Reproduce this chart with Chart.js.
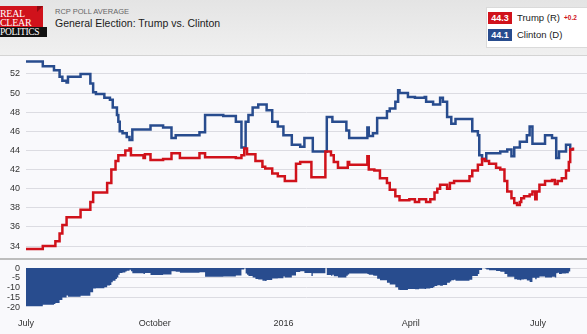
<!DOCTYPE html>
<html>
<head>
<meta charset="utf-8">
<script src="https://cdn.jsdelivr.net/npm/chart.js@4.4.0/dist/chart.umd.min.js"></script>
<style>
body { margin:0; width:587px; height:334px; overflow:hidden; position:relative;
       background:#f9f9fc; font-family:"Liberation Sans", Arial, sans-serif; }
#head { position:absolute; left:0; top:0; width:587px; height:55px;
        background:linear-gradient(#e4e4e4, #f0f0f0); border-bottom:1px solid #d4d4d4; }
#logoRed { position:absolute; left:0; top:6px; width:43px; height:21px; background:#d0121b; }
#logoFold { position:absolute; left:37px; top:6px; width:0; height:0;
            border-left:6px solid #8e0a10; border-bottom:6px solid transparent; }
#logoBlack { position:absolute; left:0; top:27px; width:47px; height:10px; background:#111; }
.logoTxt { position:absolute; left:0; color:#fff; font-family:"Liberation Serif", "DejaVu Serif", serif;
           font-size:10px; line-height:10px; letter-spacing:-0.3px; white-space:nowrap; }
#sub { position:absolute; left:55px; top:7px; font-size:7.5px; color:#666; }
#title { position:absolute; left:55px; top:17px; font-size:10.5px; color:#1b1b1b; }
#legend { position:absolute; left:486px; top:7px; width:110px; height:39px; background:#fff;
          border:1px solid #dadada; }
.badge { position:absolute; left:488px; width:24px; height:12px; color:#fff; font-weight:bold;
         font-size:9px; line-height:12px; text-align:center; }
.lname { position:absolute; left:517px; font-size:9.5px; line-height:12px; color:#1b1b1b; }
#lead { position:absolute; left:564px; top:14px; font-size:6.5px; line-height:8px; font-weight:bold; color:#d0121b; }
#sep { position:absolute; left:0; top:258px; width:587px; height:2px; background:#bdbdbd; }
#mainBox { position:absolute; left:0; top:56px; }
#spreadBox { position:absolute; left:0; top:262px; }
</style>
</head>
<body>
<div id="head">
  <div id="logoRed"></div><div id="logoFold"></div><div id="logoBlack"></div>
  <div class="logoTxt" style="top:9px">REAL</div>
  <div class="logoTxt" style="top:18px">CLEAR</div>
  <div class="logoTxt" style="top:27px;font-size:9.5px">POLITICS</div>
  <div id="sub">RCP POLL AVERAGE</div>
  <div id="title">General Election: Trump vs. Clinton</div>
</div>
<div id="legend"></div>
<div class="badge" id="tBadge" style="top:12px;background:#d0121b"></div>
<div class="lname" style="top:12px">Trump (R)</div>
<div id="lead"></div>
<div class="badge" id="cBadge" style="top:29px;background:#284c8e"></div>
<div class="lname" style="top:29px">Clinton (D)</div>
<div id="mainBox"><canvas id="main" width="587" height="202"></canvas></div>
<div id="sep"></div>
<div id="spreadBox"><canvas id="spread" width="587" height="72"></canvas></div>
<script>
var RED = '#d0121b';
var BLUE = '#284c8e';
var FONT = '"Liberation Sans", Arial, sans-serif';

// days since July 1, 2015 where each average changes, and the new value
var CLINTON_DAY = [0,12,20,24,26,29,30,39,46,48, 50,56,60,62,65,66,67,69,72,74,
    76,89,98,104,107,124,128,141,150,154, 157,159,162,166,172,176,180,184,190,196,
    199,205,215,219,229,231,244,245,248,251, 258,260,264,266,267,273,278,285,286,291,
    296,298,301,304,307,319,323,324,326,329, 339,344,347,349,353,358,360,362,371,376,
    379,381,386,389,391];
var CLINTON = [53.3,52.8,52.4,51.7,51.3,51.1,51.7,52.0,51.0,50.1, 49.9,49.5,49.3,48.5,47.7,47.0,46.0,45.8,45.4,45.1,
    46.2,46.6,46.4,45.3,45.6,45.9,47.7,47.6,47.0,44.3, 47.0,47.7,48.5,48.8,48.2,47.0,46.5,45.6,44.6,44.4,
    45.3,43.9,47.5,47.0,46.1,45.3,46.4,45.5,45.8,47.4, 48.1,48.4,49.1,50.3,50.0,49.6,49.5,49.6,49.1,48.8,
    49.5,49.1,47.5,46.8,47.3,46.0,45.6,43.5,43.1,43.7, 43.9,44.1,43.4,44.3,44.9,45.6,46.5,44.7,45.6,45.3,
    43.2,43.9,44.6,44.1,44.1];

var TRUMP_DAY = [0,12,21,24,26,29,39,46,48,58, 61,64,66,71,74,75,84,85,89,98,
    104,110,124,128,150,154,156,158,164,169, 171,176,180,185,193,196,204,214,218,220,
    223,230,231,244,245,249,253,258,260,264, 267,274,278,281,286,289,292,294,296,301,
    303,306,317,319,323,326,328,331,336,339, 342,344,347,349,351,353,354,356,360,362,
    364,365,367,371,376,378,380,383,386,388, 389,391];
var TRUMP = [33.7,34.0,34.5,35.3,36.2,37.0,37.8,38.6,39.6,40.6, 42.0,42.9,43.5,44.0,44.2,43.5,43.2,43.6,43.0,43.1,
    43.7,43.2,43.7,43.3,43.2,43.5,44.2,43.6,42.9,42.3, 42.1,41.6,41.3,40.8,42.6,42.8,41.2,43.9,43.5,42.8,
    42.2,42.8,42.5,43.4,42.0,41.9,41.1,40.6,39.9,39.2, 38.8,38.9,38.6,38.9,38.6,38.9,39.6,40.0,40.4,40.0,
    40.6,40.8,41.3,41.9,42.5,43.1,42.9,42.6,42.2,42.0, 40.8,39.7,39.0,38.5,38.3,38.6,39.0,39.2,39.4,39.7,
    38.9,39.7,40.4,40.8,40.9,40.5,40.8,41.1,41.9,42.8, 44.1,44.3];

var TICK_DAYS = [0, 92, 184, 275, 366];
var TICK_LABELS = ['July', 'October', '2016', 'April', 'July'];
var Y_TICKS = [34, 36, 38, 40, 42, 44, 46, 48, 50, 52];
var SPREAD_TICKS = [0, -5, -10, -15, -20];
var X_MAX = 401;

function points(days, vals) {
    return days.map(function(d, i) { return {x: d, y: vals[i]}; });
}

function valueAt(days, vals, d) {
    var v = vals[0];
    for (var i = 0; i < days.length && days[i] <= d; i++) v = vals[i];
    return v;
}

// spread = Trump minus Clinton on every day either average moved
var allDays = CLINTON_DAY.concat(TRUMP_DAY).filter(function(d, i, a) { return a.indexOf(d) === i; })
    .sort(function(a, b) { return a - b; });
var spread = allDays.map(function(d) {
    return {x: d, y: Math.round((valueAt(TRUMP_DAY, TRUMP, d) - valueAt(CLINTON_DAY, CLINTON, d)) * 10) / 10};
});

var tLast = TRUMP[TRUMP.length - 1], cLast = CLINTON[CLINTON.length - 1];
document.getElementById('tBadge').textContent = tLast.toFixed(1);
document.getElementById('cBadge').textContent = cLast.toFixed(1);
document.getElementById('lead').textContent = '+' + (tLast - cLast).toFixed(1);

function yAxisFit(s) { s.width = 26; s.paddingTop = 0; s.paddingBottom = 0; }

new Chart(document.getElementById('main'), {
    type: 'line',
    data: {
        datasets: [
            {label: 'Trump (R)', data: points(TRUMP_DAY, TRUMP), borderColor: RED},
            {label: 'Clinton (D)', data: points(CLINTON_DAY, CLINTON), borderColor: BLUE}
        ]
    },
    options: {
        responsive: false, animation: false,
        layout: {padding: 0},
        plugins: {legend: {display: false}, tooltip: {enabled: false}},
        elements: {point: {radius: 0}, line: {borderWidth: 2.5, stepped: true, fill: false}},
        scales: {
            x: {type: 'linear', min: 0, max: X_MAX, display: false},
            y: {
                min: 32.75, max: 53.88,
                afterBuildTicks: function(s) { s.ticks = Y_TICKS.map(function(v) { return {value: v}; }); },
                afterFit: yAxisFit,
                border: {display: false},
                grid: {color: '#dcdce2', drawTicks: false},
                ticks: {padding: 6, color: '#333', autoSkip: false, font: {size: 9, family: FONT}}
            }
        }
    }
});

new Chart(document.getElementById('spread'), {
    type: 'line',
    data: {
        datasets: [{
            label: 'Spread', data: spread, borderWidth: 0, borderColor: 'rgba(0,0,0,0)',
            fill: {target: 'origin', above: RED, below: BLUE}, stepped: true, pointRadius: 0
        }]
    },
    options: {
        responsive: false, animation: false,
        layout: {padding: 0},
        plugins: {legend: {display: false}, tooltip: {enabled: false}},
        scales: {
            x: {
                type: 'linear', min: 0, max: X_MAX,
                afterBuildTicks: function(s) { s.ticks = TICK_DAYS.map(function(v) { return {value: v}; }); },
                afterFit: function(s) { s.height = 25; s.paddingLeft = 0; s.paddingRight = 0; },
                border: {display: false},
                grid: {display: false, drawTicks: false},
                ticks: {
                    padding: 9, color: '#333', font: {size: 9, family: FONT}, maxRotation: 0, autoSkip: false,
                    callback: function(v) { return TICK_LABELS[TICK_DAYS.indexOf(v)]; }
                }
            },
            y: {
                min: -21, max: 3.1,
                afterBuildTicks: function(s) { s.ticks = SPREAD_TICKS.map(function(v) { return {value: v}; }); },
                afterFit: yAxisFit,
                border: {display: false},
                grid: {
                    drawTicks: false,
                    color: function(c) { return c.tick && c.tick.value === -20 ? 'rgba(0,0,0,0)' : '#dcdce2'; }
                },
                ticks: {padding: 6, color: '#333', autoSkip: false, font: {size: 9, family: FONT}}
            }
        }
    }
});
</script>
</body>
</html>
